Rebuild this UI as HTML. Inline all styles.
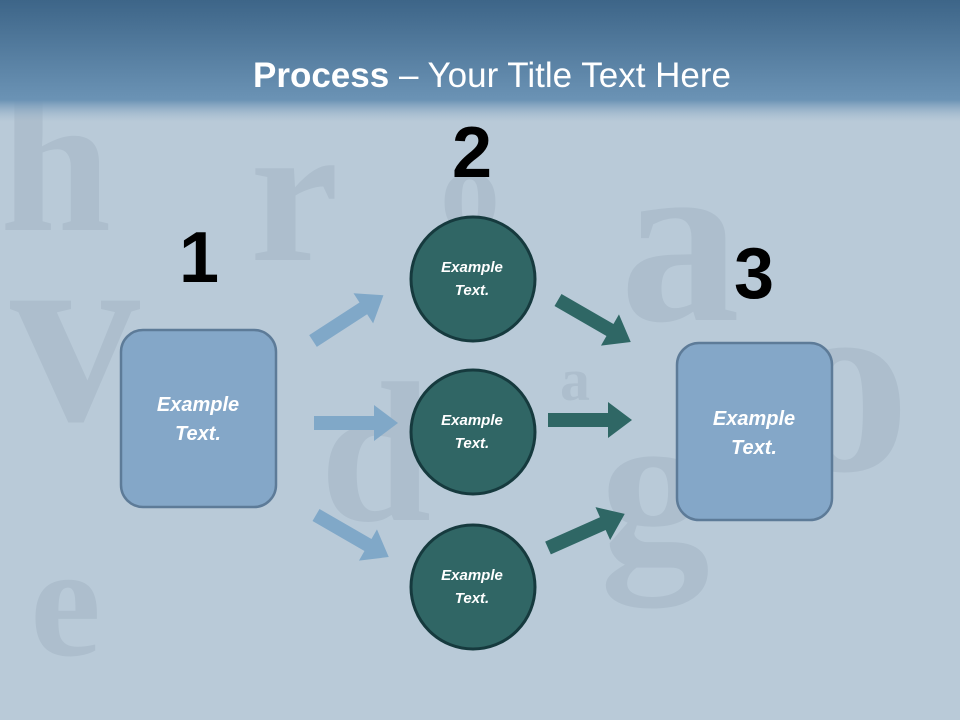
<!DOCTYPE html>
<html><head><meta charset="utf-8"><style>
html,body{margin:0;padding:0;width:960px;height:720px;overflow:hidden;font-family:"Liberation Sans",sans-serif}
svg{display:block;overflow:hidden}
</style></head><body>
<svg width="960" height="720" viewBox="0 0 960 720" xmlns="http://www.w3.org/2000/svg">
<defs>
<linearGradient id="hd" x1="0" y1="0" x2="0" y2="1">
<stop offset="0" stop-color="#3d6588"/><stop offset="0.82" stop-color="#6b93b5"/><stop offset="1" stop-color="#9db6cb" stop-opacity="0"/>
</linearGradient>
<g id="ar"><polygon points="0,-7 60,-7 60,-18 84,0 60,18 60,7 0,7"/></g>
</defs>
<rect width="960" height="720" fill="#b9cad8"/>
<g fill="#a4b6c5" opacity="0.55" font-family="Liberation Serif,serif" font-weight="bold">
<text x="0" y="230" font-size="200">h</text>
<text x="10" y="420" font-size="260">v</text>
<text x="250" y="260" font-size="200">r</text>
<text x="440" y="230" font-size="120">o</text>
<text x="620" y="320" font-size="240">a</text>
<text x="780" y="470" font-size="260">o</text>
<text x="30" y="655" font-size="160">e</text>
<text x="600" y="560" font-size="220">g</text>
<text x="560" y="400" font-size="60">a</text>
<text x="320" y="520" font-size="200">d</text>
</g>
<rect width="960" height="122" fill="url(#hd)"/>
<text x="492" y="87" text-anchor="middle" fill="#fff" font-size="35"><tspan font-weight="bold">Process</tspan> – Your Title Text Here</text>
<g font-weight="bold" font-size="72" fill="#000" text-anchor="middle">
<text x="199" y="282">1</text><text x="472" y="177">2</text><text x="754" y="298">3</text>
</g>
<g fill="#80a8c8">
<use href="#ar" transform="translate(313,341) rotate(-33)"/>
<use href="#ar" transform="translate(314,423)"/>
<use href="#ar" transform="translate(316,515) rotate(30)"/>
</g>
<g fill="#2f6765">
<use href="#ar" transform="translate(558,300) rotate(30)"/>
<use href="#ar" transform="translate(548,420)"/>
<use href="#ar" transform="translate(548,548) rotate(-24)"/>
</g>
<rect x="121" y="330" width="155" height="177" rx="22" fill="#84a7c8" stroke="#5d7b98" stroke-width="2.5"/>
<rect x="677" y="343" width="155" height="177" rx="22" fill="#84a7c8" stroke="#5d7b98" stroke-width="2.5"/>
<g fill="#306665" stroke="#163a3e" stroke-width="3">
<circle cx="473" cy="279" r="62"/><circle cx="473" cy="432" r="62"/><circle cx="473" cy="587" r="62"/>
</g>
<g fill="#fff" font-style="italic" font-weight="bold" text-anchor="middle">
<g font-size="20"><text x="198" y="411">Example</text><text x="198" y="440">Text.</text>
<text x="754" y="425">Example</text><text x="754" y="454">Text.</text></g>
<g font-size="15"><text x="472" y="272">Example</text><text x="472" y="295">Text.</text>
<text x="472" y="425">Example</text><text x="472" y="448">Text.</text>
<text x="472" y="580">Example</text><text x="472" y="603">Text.</text></g>
</g>
</svg>
</body></html>
